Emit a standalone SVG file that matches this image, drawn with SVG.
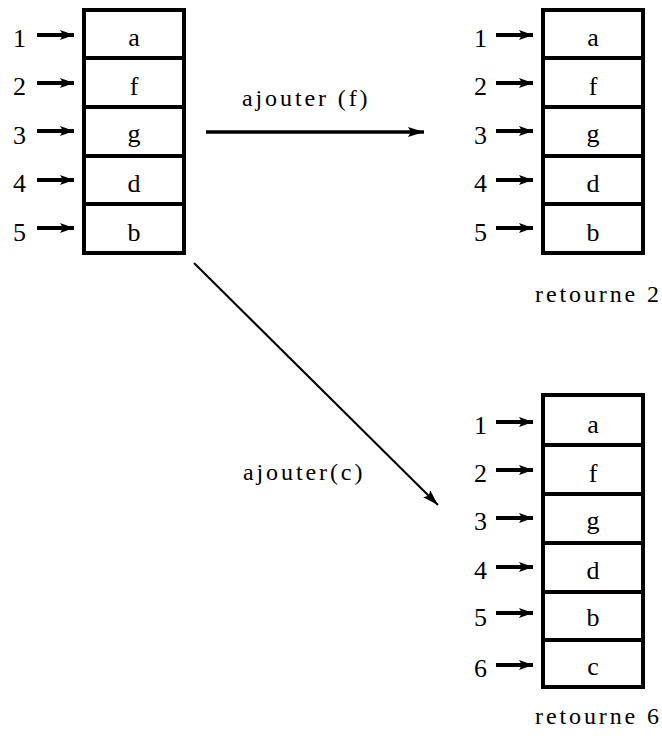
<svg xmlns="http://www.w3.org/2000/svg" width="662" height="740" viewBox="0 0 662 740">
  <style>
    .cell { fill: #fff; stroke: #000; stroke-width: 4; }
    .sep { stroke: #000; stroke-width: 4; }
    .ptr { stroke: #000; stroke-width: 4; fill: none; }
    .num { font-family: "Liberation Serif", "DejaVu Serif", serif; font-size: 26px; fill: #000; text-anchor: end; }
    .val { font-family: "Liberation Serif", "DejaVu Serif", serif; font-size: 26px; fill: #000; text-anchor: middle; }
    .lbl { font-family: "Liberation Serif", "DejaVu Serif", serif; font-size: 24px; fill: #000; letter-spacing: 2.9px; }
  </style>
  <defs>
    <marker id="tip" viewBox="0 0 14 10" refX="14" refY="5" markerWidth="14" markerHeight="10" markerUnits="userSpaceOnUse" orient="auto">
      <path d="M0,0 L14,5 L0,10 L3,5 Z" fill="#000"/>
    </marker>
    <marker id="tipBig" viewBox="0 0 16 10" refX="16" refY="5" markerWidth="16" markerHeight="10" markerUnits="userSpaceOnUse" orient="auto">
      <path d="M0,0 L16,5 L0,10 L3,5 Z" fill="#000"/>
    </marker>
  </defs>

  <!-- starting table -->
  <g id="table-initial">
    <rect class="cell" x="84" y="10" width="100" height="243"/>
    <line class="sep" x1="84" y1="58" x2="184" y2="58"/>
    <line class="sep" x1="84" y1="107" x2="184" y2="107"/>
    <line class="sep" x1="84" y1="156" x2="184" y2="156"/>
    <line class="sep" x1="84" y1="204" x2="184" y2="204"/>
    <text class="val" x="134" y="46">a</text>
    <text class="val" x="134" y="95">f</text>
    <text class="val" x="134" y="142">g</text>
    <text class="val" x="134" y="192">d</text>
    <text class="val" x="134" y="241">b</text>
    <text class="num" x="26" y="47">1</text>
    <text class="num" x="26" y="95">2</text>
    <text class="num" x="26" y="144">3</text>
    <text class="num" x="26" y="192">4</text>
    <text class="num" x="26" y="241">5</text>
    <line class="ptr" x1="37" y1="35" x2="74" y2="35" marker-end="url(#tip)"/>
    <line class="ptr" x1="37" y1="83" x2="74" y2="83" marker-end="url(#tip)"/>
    <line class="ptr" x1="37" y1="131" x2="74" y2="131" marker-end="url(#tip)"/>
    <line class="ptr" x1="37" y1="180" x2="74" y2="180" marker-end="url(#tip)"/>
    <line class="ptr" x1="37" y1="228" x2="74" y2="228" marker-end="url(#tip)"/>
  </g>

  <!-- table after adding f -->
  <g id="table-add-f">
    <rect class="cell" x="543" y="10" width="100" height="243"/>
    <line class="sep" x1="543" y1="58" x2="643" y2="58"/>
    <line class="sep" x1="543" y1="107" x2="643" y2="107"/>
    <line class="sep" x1="543" y1="156" x2="643" y2="156"/>
    <line class="sep" x1="543" y1="204" x2="643" y2="204"/>
    <text class="val" x="593" y="46">a</text>
    <text class="val" x="593" y="95">f</text>
    <text class="val" x="593" y="142">g</text>
    <text class="val" x="593" y="192">d</text>
    <text class="val" x="593" y="241">b</text>
    <text class="num" x="487" y="47">1</text>
    <text class="num" x="487" y="95">2</text>
    <text class="num" x="487" y="144">3</text>
    <text class="num" x="487" y="192">4</text>
    <text class="num" x="487" y="241">5</text>
    <line class="ptr" x1="496" y1="35" x2="533" y2="35" marker-end="url(#tip)"/>
    <line class="ptr" x1="496" y1="83" x2="533" y2="83" marker-end="url(#tip)"/>
    <line class="ptr" x1="496" y1="131" x2="533" y2="131" marker-end="url(#tip)"/>
    <line class="ptr" x1="496" y1="180" x2="533" y2="180" marker-end="url(#tip)"/>
    <line class="ptr" x1="496" y1="228" x2="533" y2="228" marker-end="url(#tip)"/>
    <text class="lbl" x="535" y="302">retourne 2</text>
  </g>

  <!-- table after adding c -->
  <g id="table-add-c">
    <rect class="cell" x="543" y="395" width="100" height="292"/>
    <line class="sep" x1="543" y1="445" x2="643" y2="445"/>
    <line class="sep" x1="543" y1="494" x2="643" y2="494"/>
    <line class="sep" x1="543" y1="543" x2="643" y2="543"/>
    <line class="sep" x1="543" y1="592" x2="643" y2="592"/>
    <line class="sep" x1="543" y1="640" x2="643" y2="640"/>
    <text class="val" x="593" y="433">a</text>
    <text class="val" x="593" y="482">f</text>
    <text class="val" x="593" y="529">g</text>
    <text class="val" x="593" y="579">d</text>
    <text class="val" x="593" y="626">b</text>
    <text class="val" x="593" y="675">c</text>
    <text class="num" x="487" y="434">1</text>
    <text class="num" x="487" y="482">2</text>
    <text class="num" x="487" y="530">3</text>
    <text class="num" x="487" y="579">4</text>
    <text class="num" x="487" y="626">5</text>
    <text class="num" x="487" y="677">6</text>
    <line class="ptr" x1="496" y1="422" x2="533" y2="422" marker-end="url(#tip)"/>
    <line class="ptr" x1="496" y1="470" x2="533" y2="470" marker-end="url(#tip)"/>
    <line class="ptr" x1="496" y1="518" x2="533" y2="518" marker-end="url(#tip)"/>
    <line class="ptr" x1="496" y1="567" x2="533" y2="567" marker-end="url(#tip)"/>
    <line class="ptr" x1="496" y1="613" x2="533" y2="613" marker-end="url(#tip)"/>
    <line class="ptr" x1="496" y1="665" x2="533" y2="665" marker-end="url(#tip)"/>
    <text class="lbl" x="535" y="724">retourne 6</text>
  </g>

  <!-- operations -->
  <g id="connectors">
    <line x1="206" y1="132" x2="424" y2="132" stroke="#000" stroke-width="3.5" marker-end="url(#tipBig)"/>
    <text class="lbl" x="242" y="106">ajouter (f)</text>
    <line x1="194" y1="263" x2="438" y2="505" stroke="#000" stroke-width="2" marker-end="url(#tipBig)"/>
    <text class="lbl" x="243" y="480">ajouter(c)</text>
  </g>
</svg>
